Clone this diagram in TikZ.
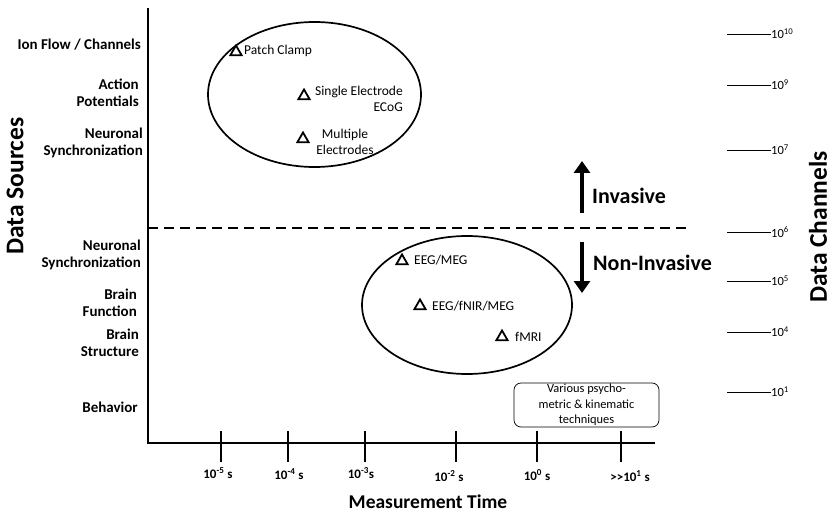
\documentclass[tikz,border=0pt]{standalone}
\usepackage{fontspec}
\setmainfont{Carlito}
\usetikzlibrary{shapes.geometric,arrows.meta}
\begin{document}
\begin{tikzpicture}[x=1pt,y=-1pt,
  lab/.style={font=\bfseries\fontsize{15}{17.5}\selectfont,align=right,anchor=east,inner sep=0pt},
  tick/.style={line width=2pt},
  ticklab/.style={font=\bfseries\fontsize{13}{15}\selectfont,inner sep=0pt},
  tri/.style={regular polygon,regular polygon sides=3,draw,line width=1.8pt,inner sep=0pt,minimum size=13pt},
  tech/.style={font=\fontsize{13.5}{16}\selectfont,inner sep=0pt,anchor=west},
  chan/.style={font=\fontsize{12.5}{14}\selectfont,inner sep=0pt,anchor=west},
  big/.style={font=\bfseries\fontsize{22}{26}\selectfont,inner sep=0pt},
  huge/.style={font=\bfseries\fontsize{25.5}{30}\selectfont,inner sep=0pt},
  arr/.style={line width=4.5pt,-{Triangle[width=16pt,length=12pt]}}]
\useasboundingbox (0,0) rectangle (832,513);
% axes
\draw[line width=2pt] (148,8) -- (148,443) -- (655,443);
\foreach \x in {221,288,365,456,537,621} \draw[tick] (\x,431) -- (\x,462);
\node[ticklab] (t1) at (218,473) {10\textsuperscript{-5} s};
\node[ticklab] (t2) at (289,474) {10\textsuperscript{-4} s};
\node[ticklab] (t3) at (361,473) {10\textsuperscript{-3}s};
\node[ticklab] (t4) at (449,476) {10\textsuperscript{-2} s};
\node[ticklab] (t5) at (537,475) {10\textsuperscript{0} s};
\node[ticklab] (t6) at (630,476) {>{}>10\textsuperscript{1} s};
\node[font=\bfseries\fontsize{19.5}{22}\selectfont,inner sep=0pt] (mt) at (428,502) {Measurement Time};
\node[huge,rotate=90] (ds) at (15,186) {Data Sources};
\node[huge,rotate=90] (dc) at (818,227) {Data Channels};
% left labels
\node[lab] (l1) at (141,45) {Ion Flow / Channels};
\node[lab] (l2) at (139,93) {Action\\Potentials};
\node[lab] (l3) at (143,143) {Neuronal\\Synchronization};
\node[lab] (l4) at (141,255) {Neuronal\\Synchronization};
\node[lab] (l5) at (137,303) {Brain\\Function};
\node[lab] (l6) at (139,343) {Brain\\Structure};
\node[lab] (l7) at (138,407) {Behavior};
% dashed line
\draw[line width=2.2pt,dash pattern=on 10pt off 6pt] (148,228) -- (690,228);
% ellipses
\draw[line width=1.7pt] (314.5,94.5) ellipse [x radius=106.5, y radius=72.5];
\draw[line width=1.7pt] (467,305) ellipse [x radius=105, y radius=69];
% invasive
\node[tri] (p1) at (236,52) {};
\node[tech] (pc) at (244,51) {Patch Clamp};
\node[tri] (p2) at (304,96) {};
\node[tech,align=right,anchor=north east] (se) at (403,86) {Single Electrode\\ECoG};
\node[tri] (p3) at (303,139) {};
\node[tech,align=center,anchor=center] (me) at (345,142) {Multiple\\Electrodes};
% non-invasive
\node[tri] (n1) at (402,261) {};
\node[tech] (eeg) at (414,260) {EEG/MEG};
\node[tri] (n2) at (420,306) {};
\node[tech] (fnir) at (432,306) {EEG/fNIR/MEG};
\node[tri] (n3) at (502,337) {};
\node[tech] (fmri) at (515,337) {fMRI};
% arrows
\coordinate (ua) at (582,213);
\coordinate (ub) at (582,161);
\draw[arr] (ua) -- (ub);
\node[big,anchor=west] (inv) at (592,196) {Invasive};
\coordinate (da) at (582,242);
\coordinate (db) at (582,293);
\draw[arr] (da) -- (db);
\node[big,anchor=west] (ninv) at (593,263) {Non-Invasive};
% behavior box
\node[draw,rounded corners=7pt,line width=0.7pt,minimum width=145pt,minimum height=44pt,inner sep=0pt,
  align=center,font=\fontsize{12.4}{15.5}\selectfont] (beh) at (586.5,405) {Various psycho-\\metric \& kinematic\\techniques};
% channels
\foreach \y/\e/\n in {34/10/c1,85/9/c2,150/7/c3,232/6/c4,281/5/c5,332/4/c6,392/1/c7}{
  \coordinate (\n a) at (727,\y);
  \node[chan] (\n) at (771,\y) {10\textsuperscript{\e}};
  \draw[line width=0.7pt] (\n a) -- (\n.west);
}
\end{tikzpicture}
\end{document}
